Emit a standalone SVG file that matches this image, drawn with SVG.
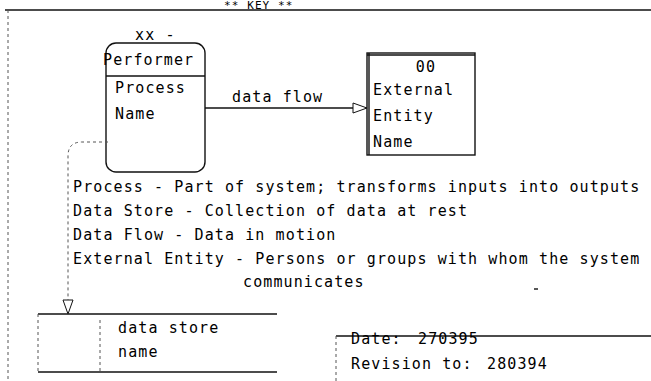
<svg xmlns="http://www.w3.org/2000/svg" width="651" height="381" viewBox="0 0 651 381">
<defs>
<style>
text{font-family:"DejaVu Sans Mono","Liberation Mono",monospace;font-size:15px;letter-spacing:1.1px;fill:#000}
.key{font-size:11px}
.ln{stroke:#111;stroke-width:1.4;fill:none}
.dash{stroke:#555;stroke-width:1;fill:none;stroke-dasharray:3 3}
</style>
<marker id="tri" markerWidth="16" markerHeight="12" refX="15" refY="6" orient="auto" markerUnits="userSpaceOnUse">
<path d="M1,1 L15,6 L1,11 Z" fill="#fff" stroke="#111" stroke-width="1"/>
</marker>
</defs>
<rect width="651" height="381" fill="#fff"/>
<g id="frame">
<text class="key" x="224" y="9">** KEY **</text>
<line class="ln" x1="5" y1="10" x2="651" y2="10"/>
<line class="dash" x1="8" y1="10" x2="8" y2="381"/>
</g>
<g id="process">
<text x="135" y="40">xx -</text>
<rect class="ln" x="106" y="43" width="99" height="129" rx="10"/>
<text x="103" y="65">Performer</text>
<line class="ln" x1="106" y1="76" x2="205" y2="76"/>
<text x="115" y="93">Process</text>
<text x="115" y="119">Name</text>
</g>
<g id="external-entity">
<rect class="ln" x="367" y="53" width="108" height="102"/>
<line class="ln" x1="367" y1="55" x2="475" y2="55" stroke-width="2"/>
<line class="ln" x1="369" y1="53" x2="369" y2="155" stroke-width="2"/>
<text x="426" y="72" text-anchor="middle">00</text>
<text x="373" y="95">External</text>
<text x="373" y="121">Entity</text>
<text x="373" y="147">Name</text>
</g>
<g id="data-store">
<line class="ln" x1="38" y1="314" x2="277" y2="314"/>
<line class="ln" x1="38" y1="372" x2="277" y2="372"/>
<line class="dash" x1="38" y1="314" x2="38" y2="372"/>
<line class="dash" x1="100" y1="320" x2="100" y2="372"/>
<text x="118" y="333">data store</text>
<text x="118" y="357">name</text>
</g>
<g id="connectors">
<line class="ln" x1="205" y1="108" x2="367" y2="108" marker-end="url(#tri)"/>
<text x="232" y="102">data flow</text>
<path class="dash" d="M108,142 L82,142 Q68,142 68,156 L68,314" marker-end="url(#tri)"/>
</g>
<g id="legend">
<text x="73" y="192">Process - Part of system; transforms inputs into outputs</text>
<text x="73" y="216">Data Store - Collection of data at rest</text>
<text x="73" y="240">Data Flow - Data in motion</text>
<text x="73" y="264">External Entity - Persons or groups with whom the system</text>
<text x="243" y="287">communicates</text>
<line class="ln" x1="534" y1="289" x2="538" y2="289"/>
</g>
<g id="revision">
<line class="ln" x1="336" y1="336" x2="651" y2="336"/>
<line class="dash" x1="336" y1="336" x2="336" y2="381"/>
<text x="351" y="344">Date:<tspan x="418">270395</tspan></text>
<text x="351" y="369">Revision to:<tspan x="487">280394</tspan></text>
</g>
</svg>
